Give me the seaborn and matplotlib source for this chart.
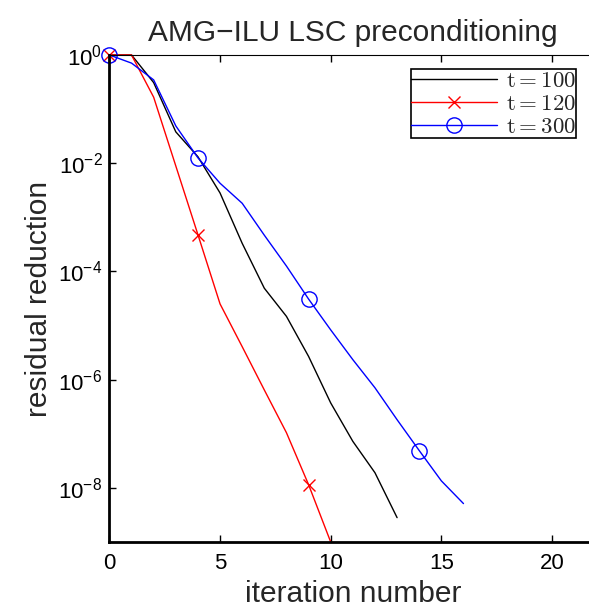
import numpy as np
import pandas as pd
import matplotlib
matplotlib.use("Agg")
import matplotlib.pyplot as plt
import seaborn as sns
from matplotlib.ticker import FixedLocator, FixedFormatter

# ---- data (log10 of residual reduction) ----
iters_100 = [0, 1, 2, 3, 4, 5, 6, 7, 8, 9, 10, 11, 12, 13]
log_res_100 = [0.0, 0.0, -0.51, -1.42, -1.88, -2.55, -3.48, -4.31, -4.83, -5.57, -6.43, -7.14, -7.72, -8.55]

iters_120 = [0, 1, 2, 3, 4, 5, 6, 7, 8, 9, 10]
log_res_120 = [0.0, 0.0, -0.78, -2.05, -3.32, -4.60, -5.39, -6.19, -6.98, -7.94, -9.0]

iters_300 = [0, 1, 2, 3, 4, 5, 6, 7, 8, 9, 10, 11, 12, 13, 14, 15, 16]
log_res_300 = [0.0, -0.15, -0.46, -1.31, -1.90, -2.37, -2.74, -3.33, -3.90, -4.51, -5.08, -5.63, -6.15, -6.74, -7.31, -7.87, -8.29]

labels = [r"$\mathrm{t=100}$", r"$\mathrm{t=120}$", r"$\mathrm{t=300}$"]
x_ticks = [0, 5, 10, 15, 20]
y_tick_exp = [0, -2, -4, -6, -8]

sns.set_style("white")
plt.rcParams["font.family"] = ["Liberation Sans", "DejaVu Sans"]
plt.rcParams["mathtext.fontset"] = "custom"
plt.rcParams["mathtext.rm"] = "Liberation Sans"
plt.rcParams["mathtext.it"] = "Liberation Sans:italic"
plt.rcParams["mathtext.bf"] = "Liberation Sans:bold"

fig = plt.figure(figsize=(5.89, 6.11), dpi=100)
W, H = 589, 611
x0_px, x1_px = 109.4, 109.4 + 22 * 22.13
top_px, bot_px = 55, 542
ax = fig.add_axes([x0_px / W, 1 - bot_px / H, (x1_px - x0_px) / W, (bot_px - top_px) / H])
ax.set_yscale("log")

df100 = pd.DataFrame({"x": iters_100, "y": 10.0 ** np.array(log_res_100)})
df120 = pd.DataFrame({"x": iters_120, "y": 10.0 ** np.array(log_res_120)})
df300 = pd.DataFrame({"x": iters_300, "y": 10.0 ** np.array(log_res_300)})

sns.lineplot(data=df100, x="x", y="y", ax=ax, color="black", linewidth=1.0,
             label=labels[0], errorbar=None, sort=False, clip_on=False)
sns.lineplot(data=df120, x="x", y="y", ax=ax, color="#ff0000", linewidth=1.0,
             marker="x", markersize=9, markeredgewidth=1.0, markeredgecolor="#ff0000",
             markevery=[0, 4, 9], label=labels[1], errorbar=None, sort=False, clip_on=False)
sns.lineplot(data=df300, x="x", y="y", ax=ax, color="#0000ff", linewidth=1.0,
             marker="o", markersize=11, markerfacecolor="none", markeredgecolor="#0000ff",
             markeredgewidth=1.0, markevery=[0, 4, 9, 14],
             label=labels[2], errorbar=None, sort=False, clip_on=False)

ax.set_xlim(0, 22)
ax.set_ylim(1e-9, 1)

ax.xaxis.set_major_locator(FixedLocator(x_ticks))
ax.xaxis.set_major_formatter(FixedFormatter([str(t) for t in x_ticks]))
ax.yaxis.set_major_locator(FixedLocator([10.0 ** e for e in y_tick_exp]))
ax.yaxis.set_major_formatter(FixedFormatter([r"$10^{%d}$" % e for e in y_tick_exp]))
ax.yaxis.set_minor_locator(FixedLocator([]))
ax.tick_params(axis="both", which="major", direction="in", length=5, width=1.0,
               labelsize=16, colors="black", top=True, right=False, bottom=True, left=True)
ax.tick_params(axis="x", pad=8)
ax.tick_params(axis="y", pad=5)

for side in ["left", "bottom"]:
    ax.spines[side].set_linewidth(2.0)
    ax.spines[side].set_color("black")
ax.spines["top"].set_linewidth(0.8)
ax.spines["top"].set_color("black")
ax.spines["right"].set_visible(False)

ax.set_title("AMG\u2212ILU LSC preconditioning", fontsize=21.5, pad=10)
ax.set_xlabel("iteration number", fontsize=21.5, labelpad=4)
ax.set_ylabel("residual reduction", fontsize=21.5, labelpad=4)

leg = ax.legend(loc="upper right", bbox_to_anchor=(576 / W, 1 - 69 / H),
                bbox_transform=fig.transFigure, borderaxespad=0, fontsize=16.5,
                frameon=True, fancybox=False, framealpha=1, edgecolor="black",
                handlelength=3.75, labelspacing=0.0, borderpad=0.0, handletextpad=0.4)
leg.get_frame().set_linewidth(1.2)
for t in leg.get_texts():
    t.set_math_fontfamily("cm")

fig.savefig("out.png", dpi=100)
